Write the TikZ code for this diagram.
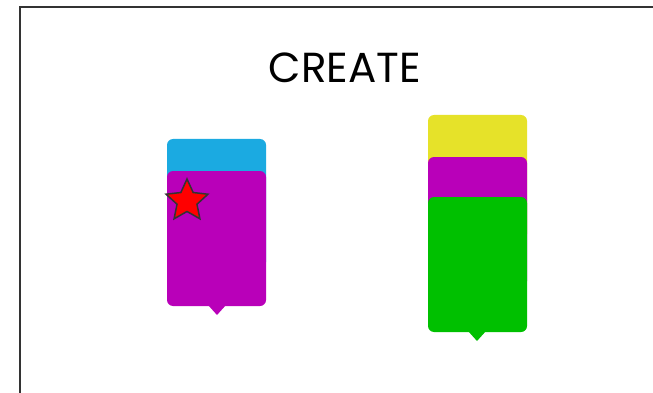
\documentclass[tikz,border=0pt]{standalone}
\usepackage{fontspec}
\setmainfont{Poppins}
\usetikzlibrary{shapes.geometric}
\definecolor{cblue}{HTML}{1BAAE1}
\definecolor{cpurple}{HTML}{B900B9}
\definecolor{cyellow}{HTML}{E6E229}
\definecolor{cgreen}{HTML}{00C000}
\definecolor{cframe}{HTML}{333333}
\tikzset{
  card/.style={rounded corners=6pt},
  frameline/.style={draw=cframe, line width=2pt},
}
\begin{document}
\begin{tikzpicture}[x=1pt,y=-1pt]
\useasboundingbox (0,0) rectangle (653,393);
\fill[white] (0,0) rectangle (653,393);
\draw[frameline] (20,393) -- (20,7) -- (653,7);
\node[font=\fontsize{42}{48}\selectfont, anchor=base] (title) at (345,83) {CREATE};
% left stack
\fill[cblue, card] (167,139) rectangle (266,268);
\fill[cpurple, card] (167,171) rectangle (266,306);
\fill[cpurple] (208,305) -- (226,305) -- (217,315) -- cycle;
\node[star, star points=5, star point ratio=2.1, minimum size=44pt, inner sep=0pt, fill=red, draw=cframe, line width=1.5pt] (star) at (187,201) {};
% right stack
\fill[cyellow, card] (428,115) rectangle (527,240);
\fill[cpurple, card] (428,157) rectangle (527,287);
\fill[cgreen, card] (428,197) rectangle (527,332);
\fill[cgreen] (468,331) -- (486,331) -- (477,341) -- cycle;
\end{tikzpicture}
\end{document}
